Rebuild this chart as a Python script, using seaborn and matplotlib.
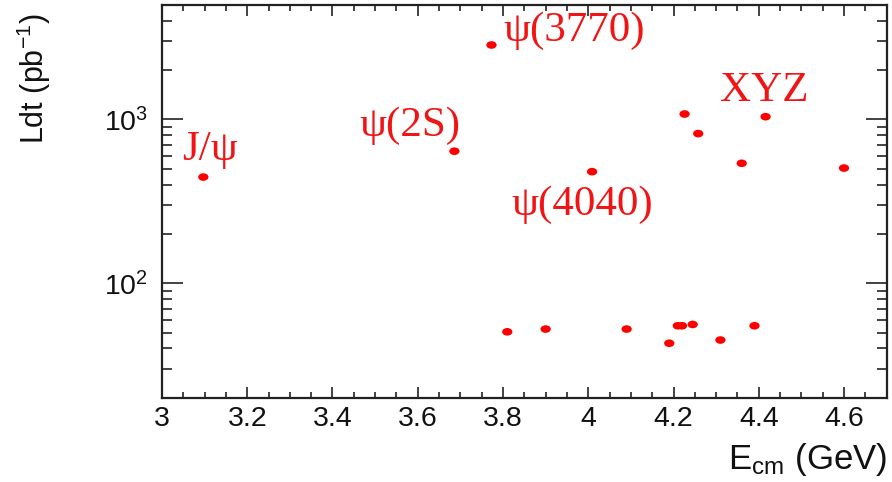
import numpy as np
import pandas as pd
import seaborn as sns
import matplotlib
matplotlib.use('Agg')
import matplotlib.pyplot as plt
from matplotlib.path import Path
from matplotlib.transforms import Affine2D
from matplotlib.ticker import MultipleLocator, FuncFormatter, LogLocator, NullFormatter

# energy points (GeV) and integrated luminosity (pb^-1)
ecm = [3.097, 3.686, 3.773, 4.009, 4.226, 4.258, 4.360, 4.416, 4.600,
       3.810, 3.900, 4.090, 4.190, 4.210, 4.220, 4.245, 4.310, 4.390]
lumi = [445, 640, 2850, 480, 1080, 820, 540, 1040, 505,
        50.5, 52.5, 52.5, 43, 55, 55, 56, 45, 55]

# resonance labels
label_text = ['J/\u03c8', '\u03c8(2S)', '\u03c8(3770)', '\u03c8(4040)', 'XYZ']
label_x = [3.047, 3.462, 3.801, 3.820, 4.309]
label_y = [650, 920, 3460, 300, 1500]

df = pd.DataFrame({'Ecm': ecm, 'Lumi': lumi})

sns.set_style('ticks')
plt.rcParams['font.family'] = ['Liberation Sans', 'DejaVu Sans']
plt.rcParams['mathtext.fontset'] = 'custom'
plt.rcParams['mathtext.rm'] = 'Liberation Sans'
plt.rcParams['mathtext.it'] = 'Liberation Sans:italic'
plt.rcParams['mathtext.default'] = 'regular'
plt.rcParams['text.color'] = 'black'
plt.rcParams['axes.labelcolor'] = 'black'
plt.rcParams['xtick.color'] = 'black'
plt.rcParams['ytick.color'] = 'black'

fig = plt.figure(figsize=(8.92, 4.82), dpi=100)
ax = fig.add_axes([0.1816, 0.1749, 0.994 - 0.1816, 0.9896 - 0.1749])

# slightly wide dots like the original
ellipse = Path.unit_circle().transformed(Affine2D().scale(1.35, 1.0))
sns.scatterplot(data=df, x='Ecm', y='Lumi', ax=ax, color='red', marker=ellipse,
                s=55, edgecolor='none', linewidth=0, legend=False)

ax.set_yscale('log')
ax.set_xlim(3.0, 4.7)
ax.set_ylim(20, 5000)

ax.xaxis.set_major_locator(MultipleLocator(0.2))
ax.xaxis.set_minor_locator(MultipleLocator(0.05))
ax.xaxis.set_major_formatter(FuncFormatter(lambda v, p: f'{v:g}'))
ax.yaxis.set_major_locator(LogLocator(base=10))
ax.yaxis.set_minor_locator(LogLocator(base=10, subs=np.arange(2, 10)))
ax.yaxis.set_minor_formatter(NullFormatter())

ax.tick_params(axis='both', which='both', direction='in', top=True, right=True,
               width=1.2, color='#222222', labelsize=20.5, labelcolor='#111111')
ax.tick_params(axis='x', which='major', length=8, pad=6)
ax.tick_params(axis='x', which='minor', length=4)
ax.tick_params(axis='y', which='major', length=15, pad=10)
ax.tick_params(axis='y', which='minor', length=7.5)
for sp in ax.spines.values():
    sp.set_linewidth(1.6)
    sp.set_color('#222222')

for t, x, y in zip(label_text, label_x, label_y):
    ax.text(x, y, t, color='#f01414', fontsize=31, ha='left', va='center',
            family=['Liberation Serif', 'DejaVu Serif'])

ax.set_xlabel(r'E$_{\rm cm}$ (GeV)', fontsize=25, loc='right', color='#111111')
ax.xaxis.set_label_coords(1.0, -0.11)
ax.set_ylabel(r'Ldt (pb$^{-1}$)', fontsize=22, loc='top', color='#111111')
ax.yaxis.set_label_coords(-0.15, 0.98)

fig.savefig('out.png', dpi=100)
